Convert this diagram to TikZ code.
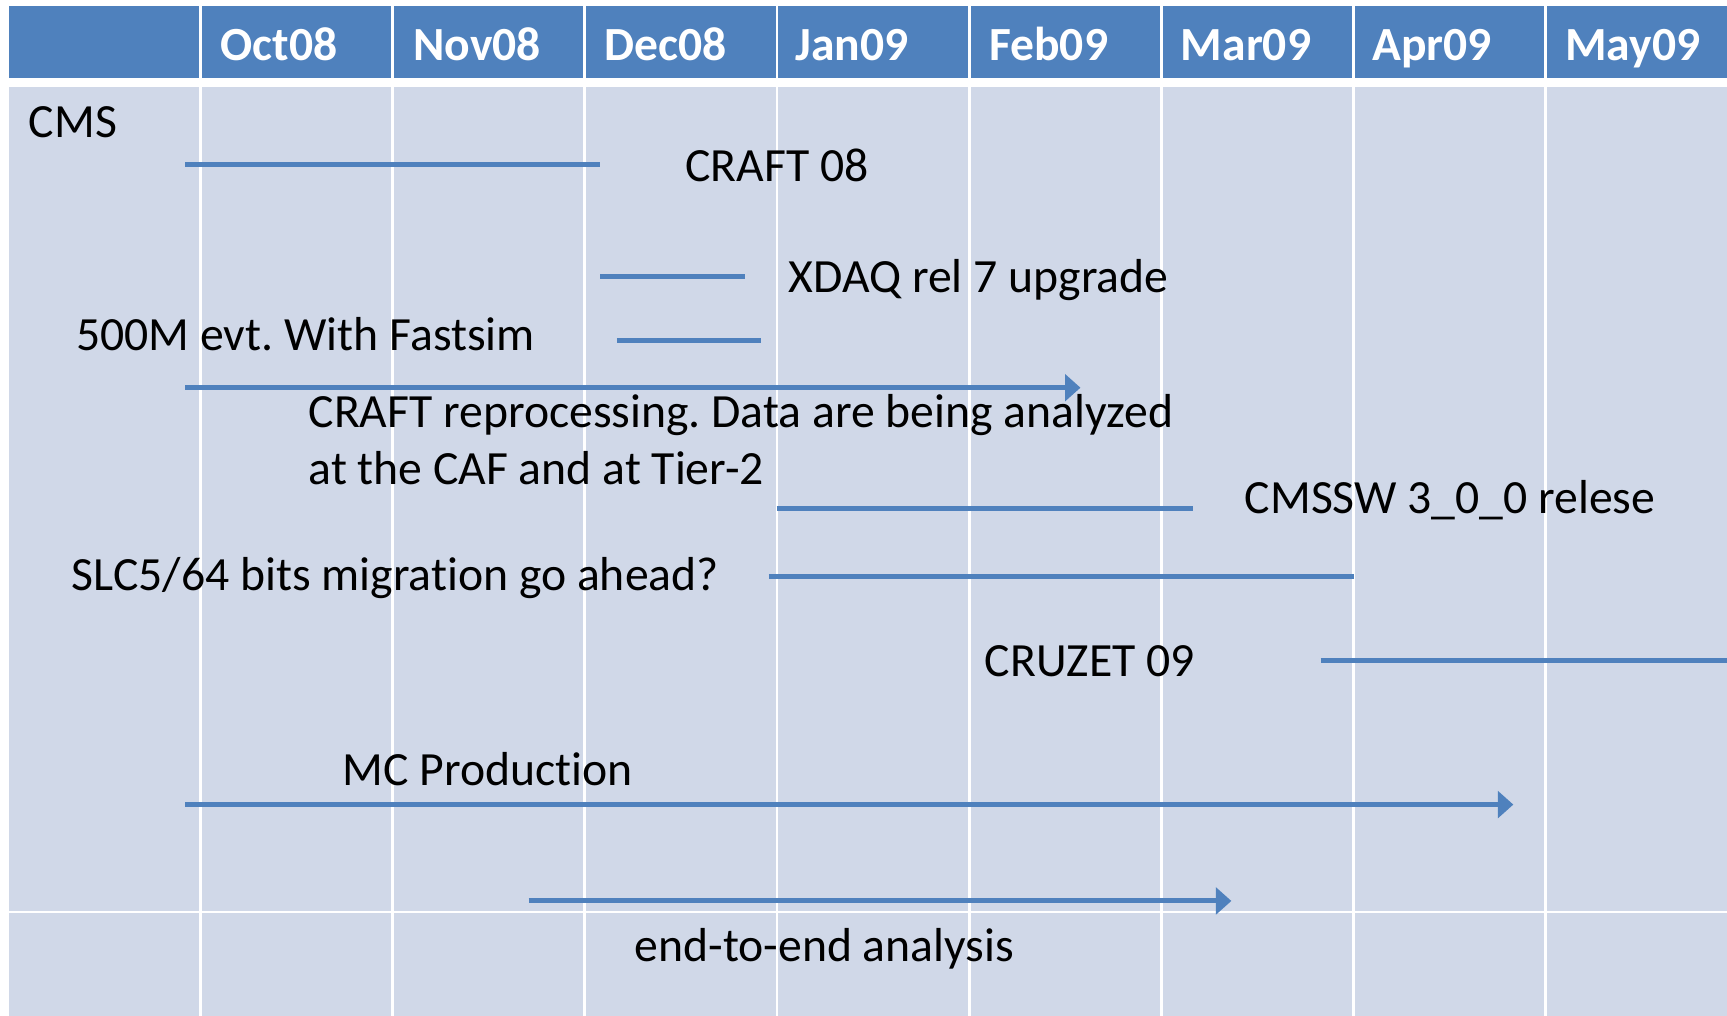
\documentclass[tikz,border=0pt]{standalone}
\usepackage{fontspec}
\setmainfont{Carlito}[Ligatures=NoCommon]
\usetikzlibrary{arrows.meta}
\definecolor{hdr}{HTML}{4F81BD}
\definecolor{bodyc}{HTML}{D0D8E8}
\definecolor{barc}{HTML}{4F81BD}
\frenchspacing
\begin{document}
\begin{tikzpicture}[x=1pt,y=-1pt,
  lbl/.style={anchor=base west, inner sep=0pt, font=\fontsize{43.3}{52}\selectfont, text=black, align=left},
  hlbl/.style={anchor=base west, inner sep=0pt, font=\fontsize{43.2}{52}\selectfont\bfseries, text=white},
  barline/.style={draw=barc, line width=4.6pt},
  barrow/.style={barline, -{Triangle[length=14pt,width=24pt]}},
  gridline/.style={draw=white, line width=2.6pt}]

\useasboundingbox (0,0) rectangle (1568,922);
\fill[white] (0,0) rectangle (1568,922);
\fill[hdr] (8,5.5) rectangle (1568,70.5);
\fill[bodyc] (8,79) rectangle (1568,922);
\foreach \x in {182,356.5,531,705.5,880,1054.5,1229,1403.5}
  \draw[gridline] (\x,0) -- (\x,922);
\draw[gridline] (8,828) -- (1568,828);

% header labels
\node[hlbl] (oct) at (200,54.5) {Oct08};
\node[hlbl] (nov) at (375,54.5) {Nov08};
\node[hlbl] (dec) at (549,54.5) {Dec08};
\node[hlbl] (jan) at (722,54.5) {Jan09};
\node[hlbl] (feb) at (898,54.5) {Feb09};
\node[hlbl] (mar) at (1072,54.5) {Mar09};
\node[hlbl] (apr) at (1246,54.5) {Apr09};
\node[hlbl] (may) at (1421,54.5) {May09};

% body labels
\node[lbl] (cms) at (26,125) {CMS};
\node[lbl] (craft) at (622,165) {CRAFT 08};
\node[lbl] (xdaq) at (716,266) {XDAQ rel 7 upgrade};
\node[lbl] (fast) at (69,318) {500M evt. With Fastsim};
\node[lbl] (reproc) at (280,388) {CRAFT reprocessing. Data are being analyzed};
\node[lbl] (reproc2) at (280,440) {at the CAF and at Tier-2};
\node[lbl] (cmssw) at (1130,466) {CMSSW 3\_0\_0 relese};
\node[lbl] (slc) at (65,536) {SLC5/64 bits migration go ahead?};
\node[lbl] (cruzet) at (894,614) {CRUZET 09};
\node[lbl] (mc) at (311,713) {MC Production};
\node[lbl] (e2e) at (576,873) {end-to-end analysis};

% bar end points
\coordinate (craftS) at (168,149.5);  \coordinate (craftE) at (545,149.5);
\coordinate (xdaqS) at (545,251);     \coordinate (xdaqE) at (676,251);
\coordinate (fastS) at (560,309);     \coordinate (fastE) at (691,309);
\coordinate (repS) at (168,352);      \coordinate (repE) at (981,352);
\coordinate (cmsswS) at (705,461.5);  \coordinate (cmsswE) at (1083,461.5);
\coordinate (slcS) at (698,523);      \coordinate (slcE) at (1229,523);
\coordinate (cruS) at (1199,600);     \coordinate (cruE) at (1568,600);
\coordinate (mcS) at (168,730.5);     \coordinate (mcE) at (1374,730.5);
\coordinate (e2eS) at (480,818);      \coordinate (e2eE) at (1118,818);

\draw[barline] (craftS) -- (craftE);
\draw[barline] (xdaqS) -- (xdaqE);
\draw[barline] (fastS) -- (fastE);
\draw[barrow] (repS) -- (repE);
\draw[barline] (cmsswS) -- (cmsswE);
\draw[barline] (slcS) -- (slcE);
\draw[barline] (cruS) -- (cruE);
\draw[barrow] (mcS) -- (mcE);
\draw[barrow] (e2eS) -- (e2eE);
\end{tikzpicture}
\end{document}
